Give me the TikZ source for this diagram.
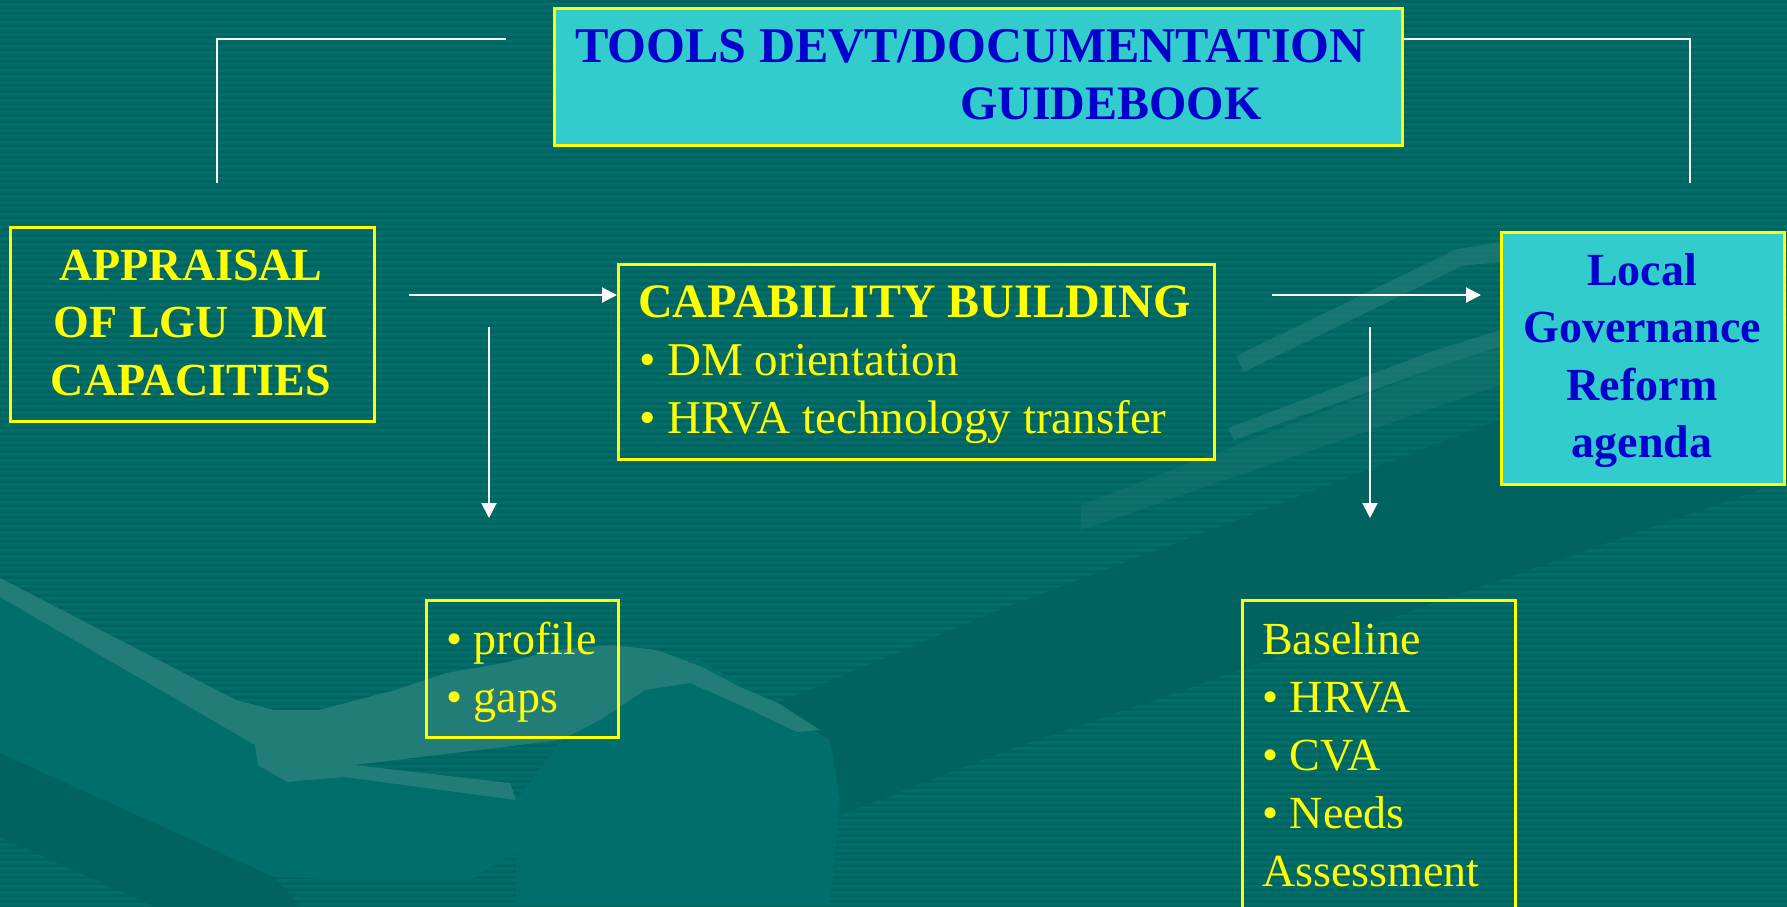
\documentclass[tikz,border=0pt]{standalone}
\usepackage{fontspec}
\setmainfont{Liberation Serif}
\usetikzlibrary{arrows.meta}
\definecolor{bgA}{RGB}{0,110,106}
\definecolor{bgB}{RGB}{0,100,96}
\definecolor{handM}{RGB}{0,110,106}
\definecolor{handD}{RGB}{0,99,95}
\definecolor{handL}{RGB}{34,124,120}
\definecolor{boxcyan}{RGB}{51,204,204}
\definecolor{boxyellow}{RGB}{255,255,0}
\definecolor{txtblue}{RGB}{0,0,204}
\begin{document}
\begin{tikzpicture}[x=1pt,y=-1pt,
  box/.style={draw=boxyellow,line width=2.5pt,inner sep=0pt,anchor=north west},
  cyanbox/.style={box,fill=boxcyan},
  boldtxt/.style={inner sep=0pt,font=\fontsize{48}{57}\selectfont\bfseries},
  boldtxtS/.style={inner sep=0pt,font=\fontsize{46}{57.5}\selectfont\bfseries},
  regtxt/.style={inner sep=0pt,font=\fontsize{46}{58}\selectfont},
  conn/.style={draw=white,line width=2pt},
  arr/.style={conn,-{Triangle[length=15pt,width=15pt]}}]
\useasboundingbox (0,0) rectangle (1787,906);
% background with faint stripes
\fill[bgA] (0,0) rectangle (1787,906);
\foreach \yy in {0,6,...,906} {\fill[bgB] (0,\yy) rectangle (1787,\yy+3);}
% faint background shapes (hand silhouette)
\fill[handD] (778,703) -- (1000,610) -- (1500,420) -- (1787,330) -- (1787,480) -- (1500,580) -- (1000,753) -- (835,817) -- (823,906) -- (700,906) -- cycle;
\fill[handD] (0,753) -- (274,877) -- (300,906) -- (153,906) -- (0,837) -- cycle;
\fill[handM] (0,597) -- (255,745) -- (258,765) -- (287,782) -- (344,777) -- (516,800) -- (520,850) -- (470,880) -- (357,880) -- (274,877) -- (0,753) -- cycle;
\fill[handM] (612,645) -- (700,660) -- (830,740) -- (840,800) -- (830,906) -- (516,906) -- (516,800) -- (561,740) -- cycle;
\fill[handL] (0,578) -- (236,700) -- (274,710) -- (319,710) -- (395,690) -- (446,673) -- (504,663) -- (555,650) -- (612,645) -- (657,650) -- (702,667) -- (740,687) -- (778,703) -- (820,730) -- (797,732) -- (740,705) -- (690,683) -- (645,690) -- (600,720) -- (561,740) -- (354,765) -- (510,783) -- (516,800) -- (344,777) -- (287,782) -- (258,765) -- (255,745) -- (0,597) -- cycle;
\fill[handL,opacity=0.35] (1081,505) -- (1457,360) -- (1500,345) -- (1500,385) -- (1081,530) -- cycle;
\fill[handL,opacity=0.7] (1236,356) -- (1457,249) -- (1500,242) -- (1500,262) -- (1462,266) -- (1244,372) -- cycle;
\fill[handL,opacity=0.7] (1228,428) -- (1430,352) -- (1500,330) -- (1500,346) -- (1435,368) -- (1234,440) -- cycle;
% boxes
\node[cyanbox,minimum width=848pt,minimum height=137pt] (tools) at (553,7) {};
\node[box,minimum width=364pt,minimum height=194pt] (appr) at (9,226) {};
\node[box,minimum width=596pt,minimum height=195pt] (cap) at (617,263) {};
\node[cyanbox,minimum width=283pt,minimum height=252pt] (lgr) at (1500,231) {};
\node[box,minimum width=192pt,minimum height=137pt] (prof) at (425,599) {};
\node[box,minimum width=273pt,minimum height=360pt] (base) at (1241,599) {};
% texts
\node[boldtxt,text=txtblue,anchor=base west] (toolsT) at (575,62)
  {\begin{tabular}[t]{@{}l@{}}{\fontsize{50}{57}\selectfont TOOLS DEVT/DOCUMENTATION}\\\hspace*{385pt}GUIDEBOOK\end{tabular}};
\node[boldtxtS,text=boxyellow,anchor=base] (apprT) at (191,280)
  {\begin{tabular}[t]{@{}c@{}}APPRAISAL\\OF LGU\ \ DM\\CAPACITIES\end{tabular}};
\node[boldtxt,text=boxyellow,anchor=base west] (capT) at (638,317) {CAPABILITY BUILDING};
\node[regtxt,text=boxyellow,anchor=base west,font=\fontsize{47}{58}\selectfont] (capL) at (639,375)
  {\begin{tabular}[t]{@{}l@{}}• DM orientation\\• HRVA technology transfer\end{tabular}};
\node[boldtxtS,text=txtblue,anchor=base] (lgrT) at (1642,285)
  {\begin{tabular}[t]{@{}c@{}}Local\\Governance\\Reform\\agenda\end{tabular}};
\node[regtxt,text=boxyellow,anchor=base west] (profT) at (446,654)
  {\begin{tabular}[t]{@{}l@{}}• profile\\• gaps\end{tabular}};
\node[regtxt,text=boxyellow,anchor=base west] (baseT) at (1262,654)
  {\begin{tabular}[t]{@{}l@{}}Baseline\\• HRVA\\• CVA\\• Needs\\Assessment\end{tabular}};
% connectors
\coordinate (tl1) at (506,39);
\coordinate (tl2) at (217,183);
\coordinate (tr2) at (1690,183);
\draw[conn] (tl1) -| (tl2);
\draw[conn] ([yshift=-32pt]tools.north east) -| (tr2);
\coordinate (a1) at (409,295);
\draw[arr] (a1) -- (a1 -| cap.west);
\coordinate (a2) at (1272,295);
\coordinate (a3) at (1481,295);
\draw[arr] (a2) -- (a3);
\coordinate (d1) at (489,327);
\coordinate (d2) at (489,518);
\draw[arr] (d1) -- (d2);
\coordinate (d3) at (1370,327);
\coordinate (d4) at (1370,518);
\draw[arr] (d3) -- (d4);
\end{tikzpicture}
\end{document}
